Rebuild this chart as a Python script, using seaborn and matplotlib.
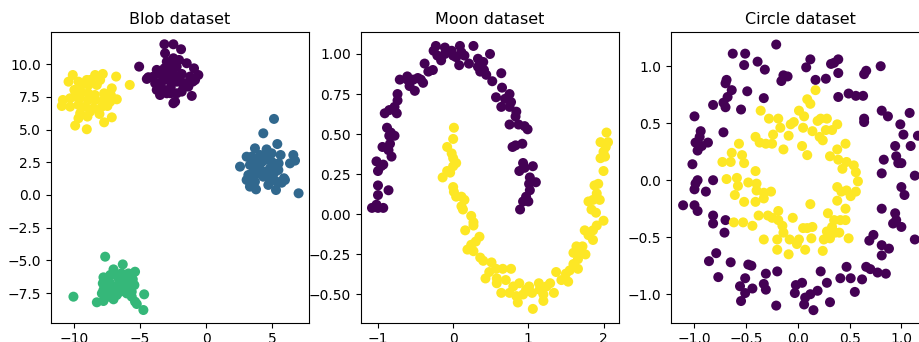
import matplotlib
matplotlib.use("Agg")
import matplotlib.pyplot as plt
import seaborn as sns
import pandas as pd

# ---- Blob dataset: four clusters ----
blob0_x = [-3.15, -2.47, -1.89, -3.10, -5.06, -2.97, -2.47, -2.04, -1.46, -0.91, -2.72, -2.22,
           -4.36, -3.98, -3.48, -3.02, -2.47, -1.84, -1.21, -0.58, -3.85, -3.35, -2.85, -2.22,
           -1.59, -1.01, -3.73, -3.27, -2.67, -1.71, -3.48, -2.97, -2.22, -1.08, -2.34, -2.47,
           -4.48, -3.15, -3.73, -2.67, -1.84, -1.34, -0.83, -2.60, -3.60, -2.00]
blob0_y = [11.53, 11.53, 11.15, 10.84, 9.82, 10.20, 10.46, 10.33, 10.08, 9.69, 9.82, 9.82,
           9.01, 9.06, 9.26, 9.18, 9.31, 9.26, 9.06, 9.18, 8.55, 8.67, 8.80, 8.67,
           8.55, 8.67, 8.04, 8.09, 8.24, 8.24, 7.65, 7.78, 7.78, 7.58, 7.14, 7.02,
           8.88, 9.69, 9.57, 7.78, 7.91, 8.29, 8.80, 9.00, 8.40, 8.90]

blob1_x = [5.14, 4.33, 3.70, 5.39, 2.57, 3.07, 3.58, 4.08, 4.58, 4.96, 5.64, 6.60, 6.73, 6.35,
           3.32, 3.83, 4.46, 4.96, 5.49, 3.58, 3.20, 4.13, 4.84, 5.47, 3.07, 3.70, 4.33, 4.84,
           5.34, 5.89, 3.32, 3.78, 4.71, 5.29, 5.72, 7.00, 3.45, 3.95, 4.58, 5.14, 5.97, 4.58,
           3.58, 4.20, 5.20]
blob1_y = [5.82, 4.72, 3.57, 3.90, 2.17, 2.93, 2.73, 3.06, 3.49, 3.19, 3.06, 3.06, 2.63, 2.42,
           2.30, 2.30, 2.68, 2.55, 2.42, 1.79, 1.53, 1.91, 2.04, 1.91, 1.15, 1.02, 1.40, 1.15,
           1.02, 1.28, 0.64, 0.43, 0.77, 0.38, 0.94, 0.13, 2.93, 1.66, 1.79, 1.66, 1.15, 2.93,
           1.40, 2.50, 2.20]

blob2_x = [-7.63, -6.30, -7.00, -5.37, -5.87, -7.76, -7.25, -6.62, -6.12, -5.54, -7.81, -7.25,
           -6.62, -5.99, -5.42, -7.76, -7.13, -6.50, -5.62, -10.03, -7.88, -7.38, -6.75, -5.99,
           -4.68, -8.26, -7.76, -7.00, -5.37, -5.24, -4.74, -6.88, -6.37, -7.50, -5.62, -6.90,
           -6.40, -7.30]
blob2_y = [-4.72, -5.31, -5.69, -5.87, -6.00, -6.30, -6.12, -6.38, -6.63, -6.45, -6.76, -6.76,
           -6.89, -7.02, -6.89, -7.27, -7.32, -7.40, -7.40, -7.78, -7.53, -7.78, -7.65, -7.53,
           -7.60, -8.21, -8.11, -7.98, -8.16, -8.34, -8.80, -7.02, -6.25, -6.51, -7.78, -6.10,
           -6.00, -7.10]

blob3_x = [-10.08, -10.40, -9.65, -9.02, -8.39, -7.81, -8.01, -6.80, -5.77, -8.89, -8.26, -7.13,
           -9.96, -9.45, -8.92, -8.41, -7.71, -7.20, -10.83, -10.28, -9.52, -8.89, -8.39, -7.76,
           -7.25, -6.75, -10.91, -10.28, -9.65, -9.14, -8.51, -7.88, -7.46, -9.52, -8.77, -8.06,
           -9.65, -8.97, -7.13, -7.71, -9.90, -9.02, -9.40, -8.77, -9.90]
blob3_y = [9.18, 8.67, 8.67, 8.80, 9.18, 9.26, 8.80, 9.06, 8.42, 8.42, 8.42, 8.16,
           8.04, 7.91, 7.78, 7.65, 7.78, 7.65, 7.27, 7.40, 7.40, 7.27, 7.27, 7.27,
           7.14, 7.32, 6.81, 6.76, 6.89, 6.76, 6.63, 6.76, 6.81, 6.25, 6.38, 6.20,
           5.87, 6.00, 5.94, 5.56, 5.31, 5.03, 8.47, 8.80, 7.53]

# ---- Moon dataset: two interleaving half circles ----
moon0_x = [-1.08, -1.02, -1.00, -0.93, -1.00, -1.00, -0.86, -1.00, -0.96, -1.02, -0.93, -0.94,
           -0.86, -0.82, -0.84, -0.88, -0.83, -0.78, -0.85, -0.91, -0.85, -0.75, -0.78, -0.74,
           -0.74, -0.71, -0.61, -0.61, -0.58, -0.51, -0.53, -0.47, -0.40, -0.43, -0.33, -0.38,
           -0.27, -0.23, -0.26, -0.21, -0.16, -0.11, -0.11, -0.02, 0.00, 0.04, 0.09, 0.11,
           0.08, 0.15, 0.21, 0.27, 0.33, 0.33, 0.40, 0.49, 0.36, 0.41, 0.44, 0.52,
           0.64, 0.65, 0.57, 0.69, 0.75, 0.64, 0.75, 0.77, 0.84, 0.83, 0.75, 0.87,
           0.95, 0.99, 0.79, 0.83, 0.92, 0.93, 0.88, 0.95, 1.06, 1.02, 1.10, 1.01,
           1.02, 0.97, 0.93, 1.00, 0.89]
moon0_y = [0.04, 0.06, 0.04, 0.04, 0.12, 0.18, 0.15, 0.27, 0.30, 0.33, 0.31, 0.42,
           0.40, 0.36, 0.44, 0.54, 0.51, 0.49, 0.49, 0.63, 0.65, 0.63, 0.67, 0.71,
           0.75, 0.84, 0.84, 0.86, 0.80, 0.77, 0.84, 0.85, 0.82, 0.84, 0.89, 0.94,
           0.90, 1.05, 1.02, 0.99, 0.96, 1.04, 1.00, 1.02, 0.99, 0.98, 1.05, 1.01,
           0.93, 0.99, 0.94, 1.05, 0.97, 0.92, 0.95, 1.00, 0.89, 0.90, 0.87, 0.83,
           0.88, 0.79, 0.73, 0.72, 0.75, 0.67, 0.67, 0.70, 0.64, 0.61, 0.56, 0.56,
           0.55, 0.53, 0.42, 0.43, 0.44, 0.32, 0.27, 0.29, 0.30, 0.23, 0.20, 0.19,
           0.15, 0.11, 0.08, 0.08, 0.03]

moon1_x = [0.01, 0.00, -0.08, -0.02, 0.00, 0.04, 0.00, -0.04, -0.14, -0.08, 0.00, 0.01,
           0.04, 0.11, 0.15, 0.11, 0.13, 0.24, 0.27, 0.27, 0.16, 0.35, 0.30, 0.24,
           0.19, 0.27, 0.36, 0.40, 0.51, 0.43, 0.48, 0.57, 0.66, 0.77, 0.58, 0.58,
           0.70, 0.64, 0.75, 0.80, 0.88, 0.84, 0.86, 0.93, 1.01, 0.97, 1.06, 1.05,
           1.14, 1.15, 1.20, 1.20, 1.24, 1.29, 1.34, 1.37, 1.44, 1.50, 1.53, 1.55,
           1.60, 1.66, 1.66, 1.60, 1.71, 1.76, 1.64, 1.72, 1.75, 1.80, 1.86, 1.86,
           1.91, 2.00, 1.90, 1.84, 1.80, 1.86, 1.95, 1.91, 1.88, 1.93, 2.00, 1.96,
           2.02, 2.03, 1.96, 2.06, 2.04, 2.00]
moon1_y = [0.54, 0.47, 0.42, 0.38, 0.35, 0.32, 0.30, 0.26, 0.23, 0.27, 0.17, 0.14,
           0.11, 0.11, 0.09, 0.05, 0.03, -0.01, -0.05, -0.07, -0.10, -0.14, -0.17, -0.19,
           -0.22, -0.23, -0.27, -0.29, -0.30, -0.40, -0.36, -0.34, -0.34, -0.34, -0.40, -0.43,
           -0.41, -0.49, -0.49, -0.45, -0.43, -0.51, -0.55, -0.50, -0.45, -0.47, -0.59, -0.49,
           -0.43, -0.47, -0.54, -0.50, -0.45, -0.43, -0.49, -0.36, -0.41, -0.37, -0.42, -0.35,
           -0.31, -0.34, -0.28, -0.24, -0.24, -0.25, -0.20, -0.20, -0.10, -0.13, -0.16, -0.10,
           -0.07, -0.04, 0.01, 0.03, 0.08, 0.09, 0.09, 0.13, 0.18, 0.19, 0.27, 0.35,
           0.36, 0.42, 0.45, 0.45, 0.51, 0.39]

# ---- Circle dataset: outer ring and inner ring ----
circ0_x = [-0.21, -0.63, -0.51, -0.52, -0.39, -0.32, -0.69, -0.70, -0.64, -0.68, -0.72, -0.82,
           -0.70, -0.49, -0.33, -0.55, -1.00, -0.72, -0.94, -0.95, -0.99, -0.87, -0.93, -0.97,
           -1.02, -0.97, -0.99, -1.00, -0.89, -0.82, -1.11, -1.00, -0.97, -0.82, -0.70, -0.82,
           -0.71, -0.79, -0.86, -0.65, -0.77, -0.48, -0.45, -0.51, -0.31, -0.20, -0.56, -0.51,
           -0.44, -0.33, -0.31, -0.55, -0.21, -0.02, 0.04, -0.03, 0.07, 0.12, 0.06, 0.15,
           0.19, 0.22, 0.28, 0.31, 0.41, 0.47, 0.51, 0.55, 0.62, 0.66, 0.70, 0.77,
           0.85, 0.81, 0.81, 0.88, 0.69, 0.73, 0.92, 0.95, 0.94, 1.00, 1.13, 0.81,
           1.03, 1.00, 1.13, 0.81, 0.83, 0.95, 0.97, 1.00, 0.94, 1.09, 1.02, 0.99,
           1.08, 1.16, 0.87, 0.81, 0.64, 0.64, 0.49, 0.56, 0.63, 0.39, 0.80, 0.66,
           0.64, 0.39, 0.32, 0.39, 0.35, 0.27, 0.17, 0.12, 0.08, -0.14, -0.10, -0.16]
circ0_y = [1.19, 1.11, 1.11, 1.01, 1.04, 0.97, 0.88, 0.85, 0.79, 0.73, 0.68, 0.66,
           0.64, 0.78, 0.72, 0.62, 0.56, 0.42, 0.43, 0.38, 0.33, 0.33, 0.30, 0.26,
           0.14, 0.00, -0.03, -0.08, -0.10, 0.00, -0.22, -0.22, -0.27, -0.31, -0.35, -0.38,
           -0.46, -0.64, -0.71, -0.72, -0.85, -0.74, -0.75, -0.86, -0.82, -0.80, -0.93, -0.99,
           -0.95, -0.91, -0.96, -1.06, -1.10, -0.92, -0.90, -0.99, -1.03, -1.00, -1.09, -1.14,
           -0.97, -0.80, -0.90, -1.07, -0.86, -0.76, -0.86, -0.98, -0.87, -0.76, -0.78, -0.81,
           -0.82, -0.66, -0.57, -0.60, -0.53, -0.48, -0.38, -0.35, -0.29, -0.41, -0.52, -0.25,
           -0.13, -0.06, 0.04, 0.06, 0.18, 0.21, 0.15, 0.15, 0.30, 0.30, 0.40, 0.49,
           0.59, 0.39, 0.56, 0.61, 0.54, 0.51, 0.76, 0.74, 0.74, 0.73, 1.00, 0.96,
           0.93, 0.94, 1.02, 1.06, 1.03, 0.89, 0.88, 1.06, 0.99, 0.92, 0.91, 0.87]

circ1_x = [0.17, 0.09, 0.12, -0.36, 0.01, -0.28, -0.19, 0.06, 0.22, 0.28, 0.19, -0.04,
           -0.07, 0.38, -0.17, 0.05, 0.14, 0.27, 0.33, -0.24, -0.41, -0.09, 0.21, 0.24,
           -0.37, -0.31, -0.25, -0.57, 0.46, -0.14, 0.04, 0.38, -0.64, -0.54, 0.09, 0.31,
           -0.73, -0.65, -0.52, 0.39, 0.47, 0.54, -0.41, 0.43, 0.56, -0.69, -0.59, -0.58,
           -0.48, -0.40, 0.58, 0.38, 0.42, 0.47, 0.56, 0.51, -0.40, -0.33, -0.26, -0.61,
           -0.33, -0.41, -0.52, 0.38, 0.12, 0.46, -0.19, -0.38, -0.29, -0.25, 0.29, -0.05,
           -0.19, 0.35, 0.41, 0.46, -0.62, -0.53, -0.44, -0.15, 0.05, 0.09, 0.14, 0.33,
           -0.14, 0.28, 0.36, 0.40, -0.08, 0.01, -0.20, -0.33, 0.13, 0.25, 0.31, 0.49,
           -0.01, -0.20, 0.07, 0.24, -0.09]
circ1_y = [0.79, 0.71, 0.67, 0.61, 0.61, 0.54, 0.54, 0.56, 0.54, 0.54, 0.52, 0.51,
           0.49, 0.49, 0.46, 0.46, 0.43, 0.44, 0.44, 0.40, 0.38, 0.39, 0.38, 0.35,
           0.33, 0.32, 0.32, 0.32, 0.32, 0.27, 0.30, 0.27, 0.24, 0.22, 0.22, 0.21,
           0.16, 0.16, 0.15, 0.18, 0.16, 0.13, 0.08, 0.10, 0.07, 0.01, 0.02, -0.05,
           -0.02, -0.03, -0.01, -0.06, -0.10, -0.09, -0.10, -0.14, -0.09, -0.11, -0.10, -0.13,
           -0.16, -0.19, -0.19, -0.18, -0.21, -0.25, -0.27, -0.31, -0.31, -0.33, -0.29, -0.33,
           -0.35, -0.35, -0.35, -0.35, -0.37, -0.37, -0.40, -0.40, -0.42, -0.42, -0.41, -0.41,
           -0.46, -0.45, -0.46, -0.46, -0.52, -0.52, -0.52, -0.52, -0.51, -0.52, -0.51, -0.51,
           -0.56, -0.61, -0.61, -0.62, -0.65]

blob_title = "Blob dataset"
moon_title = "Moon dataset"
circle_title = "Circle dataset"

four_colors = ["#440154", "#31688e", "#35b779", "#fde725"]
two_colors = ["#440154", "#fde725"]


def frame(groups):
    parts = []
    for label, (xs, ys) in enumerate(groups):
        parts.append(pd.DataFrame({"x": xs, "y": ys, "label": label}))
    return pd.concat(parts, ignore_index=True)


blob_df = frame([(blob0_x, blob0_y), (blob1_x, blob1_y), (blob2_x, blob2_y), (blob3_x, blob3_y)])
moon_df = frame([(moon0_x, moon0_y), (moon1_x, moon1_y)])
circle_df = frame([(circ0_x, circ0_y), (circ1_x, circ1_y)])

fig = plt.figure(figsize=(9.2, 3.42), dpi=100)
W, H = 920.0, 342.0
lefts = [50.7, 360.7, 670.7]
ax_w, top, bottom = 258.6, 32.0, 322.7

panels = [
    (blob_df, four_colors, blob_title, (-11.75, 7.81), (-9.77, 12.47)),
    (moon_df, two_colors, moon_title, (-1.23, 2.21), (-0.676, 1.137)),
    (circle_df, two_colors, circle_title, (-1.23, 1.27), (-1.25, 1.30)),
]

for left, (df, colors, title, xlim, ylim) in zip(lefts, panels):
    ax = fig.add_axes([left / W, (H - bottom) / H, ax_w / W, (bottom - top) / H])
    sns.scatterplot(data=df, x="x", y="y", hue="label", palette=colors,
                    s=52, linewidth=0, legend=False, ax=ax)
    ax.set_xlim(*xlim)
    ax.set_ylim(*ylim)
    ax.set_title(title, fontsize=11.5)
    ax.set_xlabel("")
    ax.set_ylabel("")
    ax.tick_params(labelsize=10)

fig.savefig("out.png", dpi=100)
